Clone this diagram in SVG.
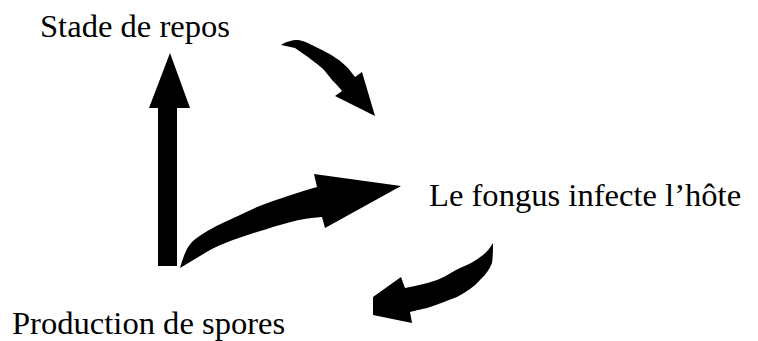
<svg xmlns="http://www.w3.org/2000/svg" width="758" height="341" viewBox="0 0 758 341">
<style>
.lbl{font-family:"Liberation Serif","Times New Roman",serif;font-size:32.6px;fill:#000}
.arr{fill:#000;stroke:none}
</style>
<rect width="758" height="341" fill="#fff"/>
<g id="node-repos"><text class="lbl" x="40" y="37">Stade de repos</text></g>
<g id="node-infecte"><text class="lbl" x="429" y="206">Le fongus infecte l’hôte</text></g>
<g id="node-spores"><text class="lbl" x="12" y="334">Production de spores</text></g>
<g id="connectors">
<path class="arr" d="M158,266 L158,108 L149,108 L170,53 L190,108 L177,108 L177,266 Z"/>
<path class="arr" d="M180,268 C183,258 186,248 192,242 C205,230 225,222 257,207 C275,200 290,195 317,187 L314,174 L401,186 L325,228 L322,217 C300,218 280,225 257,232 C240,238 225,242 210,250 C200,256 190,262 180,268 Z"/>
<path class="arr" d="M281,45 C285,42 292,40 298,40 C305,41 312,45 322,50 C332,55 340,60 348,68 L355,77 L362,72 L375,116 L335,96 L342,91 C338,86 335,83 332,80 C328,75 326,72 322,68 C315,62 310,59 308,57 C302,53 298,50 295,48 Z"/>
<path class="arr" d="M493,243 C490,248 487,252 483,255 C475,261 468,265 460,268 C450,273 445,277 437,280 C425,284 415,286 405,288 L401,277 L373,297 L373,315 L412,323 L410,312 C418,310 422,309 427,308 C440,304 448,300 457,297 C466,292 474,287 480,280 C486,274 490,269 492,263 C493,256 493,250 493,243 Z"/>
</g>
</svg>
